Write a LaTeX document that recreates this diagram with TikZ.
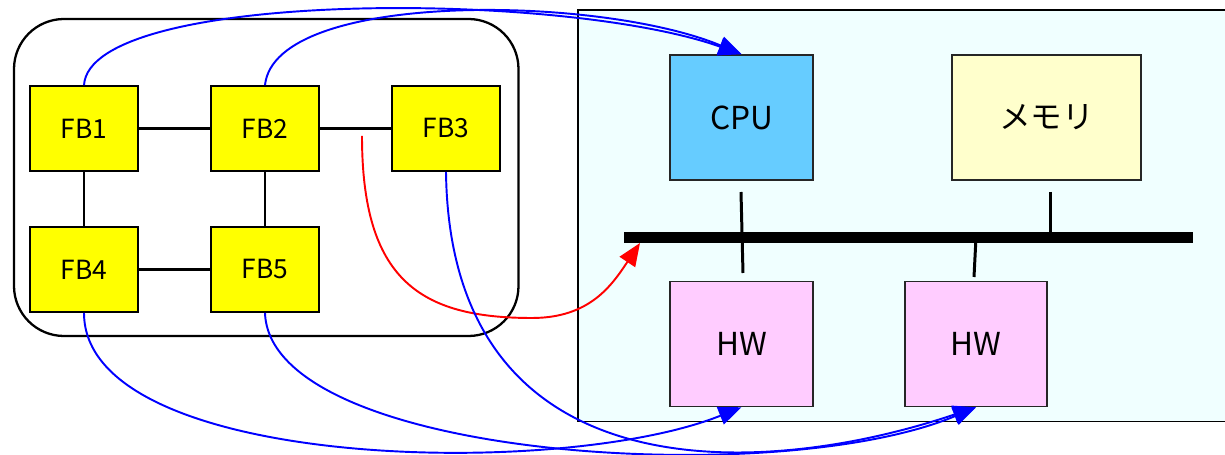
\documentclass[tikz,border=0pt]{standalone}
\usepackage{fontspec}
\setmainfont{Noto Sans CJK JP}
\usepackage{tikz}
\usetikzlibrary{arrows.meta}
\definecolor{panelbg}{HTML}{F0FFFF}
\definecolor{fbcol}{HTML}{FFFF00}
\definecolor{cpucol}{HTML}{66CCFF}
\definecolor{memcol}{HTML}{FFFFCC}
\definecolor{hwcol}{HTML}{FFCCFF}
\tikzset{
	fbbox/.style={draw, line width=1pt, fill=fbcol, minimum width=2.16cm, minimum height=1.7cm, font=\fontsize{15}{15}\selectfont},
	unit/.style={draw=black!85, line width=0.9pt, minimum width=2.86cm, minimum height=2.5cm, font=\fontsize{18}{18}\selectfont},
	link/.style={line width=1.2pt},
	drop/.style={line width=1.7pt},
	flow/.style={blue, line width=1.1pt, -{Triangle[length=13pt,width=10.5pt]}},
	busflow/.style={red, line width=1.1pt, -{Triangle[length=13pt,width=10.5pt]}}
}

\begin{document}
\begin{tikzpicture}[x=0.02cm, y=-0.02cm]
	\useasboundingbox (0,0) rectangle (1225,455);
	% hardware side
	\fill[panelbg] (578,10) rectangle (1225,421.5);
	\draw[line width=1pt] (1225,10) -- (578,10) -- (578,421.5) -- (1225,421.5);
	% function blocks
	\draw[line width=1.3pt, rounded corners=1cm] (14,19) rectangle (518.5,336);
	\foreach \n/\x/\y in {1/84/128.5, 2/265/128.5, 3/446/128.5, 4/84/269.5, 5/265/269.5}
		\node[fbbox] (FB\n) at (\x,\y) {FB\n};
	\foreach \a/\b in {1/2, 2/3, 1/4, 2/5, 4/5}
		\draw[link] (FB\a) -- (FB\b);
	\node[unit, fill=cpucol] (CPU) at (741.5,117.5) {CPU};
	\node[unit, fill=memcol, minimum width=3.78cm] (MEM) at (1046.5,117.5) {メモリ};
	\node[unit, fill=hwcol] (HW1) at (741.5,344) {HW};
	\node[unit, fill=hwcol, minimum width=2.84cm] (HW2) at (976,344) {HW};
	% bus
	\coordinate (busL) at (624,237.5);
	\coordinate (busR) at (1193,237.5);
	\coordinate (busIn) at (640,243);
	\draw[line width=6.2pt] (busL) -- (busR);
	\coordinate (cpuTop) at (741,192);
	\coordinate (cpuBot) at (743,273);
	\coordinate (memTop) at (1050,192);
	\coordinate (memBot) at (1050,237.5);
	\coordinate (hwTop) at (976,237.5);
	\coordinate (hwBot) at (974,277);
	\draw[drop] (cpuTop) -- (cpuBot);
	\draw[drop] (memTop) -- (memBot);
	\draw[drop] (hwTop) -- (hwBot);
	% mapping
	\coordinate (redStart) at (362,136);
	\draw[flow] (FB1.north) .. controls (90,-10) and (560,-10) .. (CPU.north);
	\draw[flow] (FB2.north) .. controls (275,-10) and (600,-5) .. (CPU.north);
	\draw[busflow] (redStart) .. controls (362,280) and (420,318) .. (532,318)
		.. controls (590,318) and (612,285) .. (busIn);
	\draw[flow] (FB3.south) .. controls (450,495) and (760,480) .. (HW2.south);
	\draw[flow] (FB4.south) .. controls (84,470) and (560,480) .. (HW1.south);
	\draw[flow] (FB5.south) .. controls (270,460) and (780,490) .. (HW2.south);
\end{tikzpicture}
\end{document}
